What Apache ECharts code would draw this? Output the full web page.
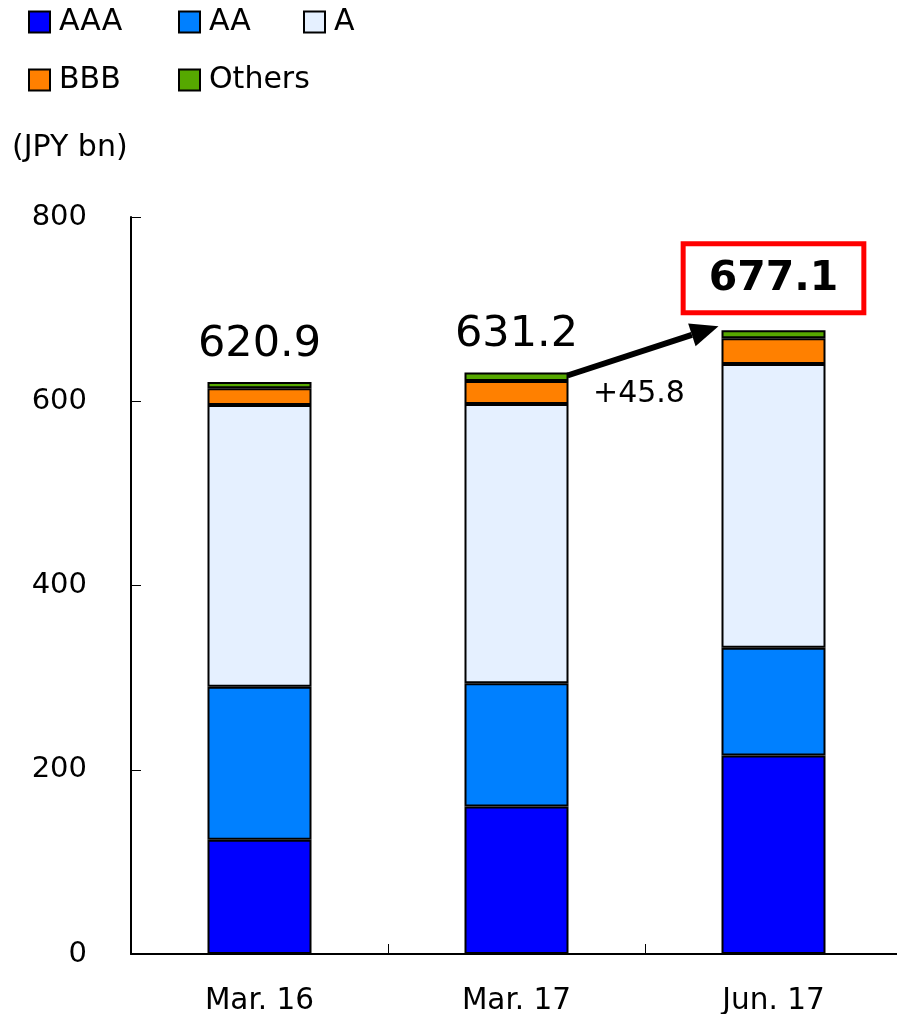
<!DOCTYPE html>
<html><head><meta charset="utf-8">
<script src="https://cdn.jsdelivr.net/npm/echarts@6/dist/echarts.min.js"></script>
<style>html,body{margin:0;padding:0;background:#fff}#c{width:897px;height:1014px}</style>
</head><body><div id="c"></div>
<script>
const categories = ['Mar. 16', 'Mar. 17', 'Jun. 17'];
const AAA = [124.0, 160.0, 215.5];
const AA = [166.0, 134.0, 117.0];
const A = [306.0, 303.0, 308.0];
const BBB = [18.0, 25.0, 28.0];
const Others = [6.9, 9.2, 8.6];
const totals = ['620.9', '631.2', '677.1'];
const changeLabel = '+45.8';
const yTicks = [0, 200, 400, 600, 800];

const FONT = 'DejaVu Sans';
const colors = {AAA:'#0000FF', AA:'#0080FF', A:'#E5F0FF', BBB:'#FF8000', Others:'#56A800'};
const names = ['AAA','AA','A','BBB','Others'];
const dataMap = {AAA, AA, A, BBB, Others};

const chart = echarts.init(document.getElementById('c'), null, {renderer:'canvas'});

const legendPos = {AAA:[28,7], AA:[178,7], A:[303,7], BBB:[28,65], Others:[178,65]};
const legends = names.map(n => ({
  data:[{name:n, icon:'rect'}], left:legendPos[n][0], top:legendPos[n][1], padding:0,
  itemWidth:21, itemHeight:21, itemGap:0,
  selectedMode:false,
  textStyle:{fontFamily:FONT, fontSize:30, color:'#000', padding:[0,0,0,4]},
  itemStyle:{borderColor:'#000', borderWidth:2}
}));

const series = names.map((n, si) => ({
  name:n, type:'bar', stack:'total', barWidth:104,
  data: dataMap[n].map((v, i) => {
    const d = {value:v};
    if (n === 'Others') {
      if (i === 2) {
        d.label = {show:true, position:'top', distance:20, formatter:totals[i],
          fontFamily:FONT, fontSize:41, fontWeight:'bold', color:'#000',
          borderColor:'#FF0000', borderWidth:5, padding:[13,23,10,23], backgroundColor:'#fff'};
      } else {
        d.label = {show:true, position:'top', distance:16, formatter:totals[i],
          fontFamily:FONT, fontSize:43, color:'#000'};
      }
    }
    return d;
  }),
  itemStyle:{color:colors[n], borderColor:'#000', borderWidth:2},
  emphasis:{disabled:true},
  z: 2
}));

const option = {
  animation:false,
  backgroundColor:'#fff',
  title:{text:'(JPY bn)', left:7, top:128, textStyle:{fontFamily:FONT, fontSize:30, fontWeight:'normal', color:'#000'}},
  legend: legends,
  grid:{left:131, top:217, right:-5, bottom:60, containLabel:false, outerBoundsMode:'none'},
  xAxis:{type:'category', data:categories,
    axisLine:{lineStyle:{color:'#000', width:2}},
    axisTick:{show:true, inside:true, length:10, lineStyle:{color:'#000', width:1}},
    axisLabel:{fontFamily:FONT, fontSize:29.5, color:'#000', margin:32}},
  yAxis:{type:'value', min:yTicks[0], max:yTicks[yTicks.length-1], interval:200,
    axisLine:{show:true, lineStyle:{color:'#000', width:2}},
    axisTick:{show:true, inside:true, length:10, lineStyle:{color:'#000', width:1}},
    splitLine:{show:false},
    axisLabel:{fontFamily:FONT, fontSize:29, color:'#000', margin:44}},
  series: series
};
chart.setOption(option);

// arrow annotation between Mar.17 and Jun.17 bar tops
const stackTop = i => AAA[i]+AA[i]+A[i]+BBB[i]+Others[i];
const p1 = chart.convertToPixel({seriesIndex:0}, [1, stackTop(1)]);
const p2 = chart.convertToPixel({seriesIndex:0}, [2, stackTop(2)]);
const sx = p1[0] + 51, sy = p1[1] + 3;
const ex = p2[0] - 55, ey = p2[1] - 4;
const ang = Math.atan2(ey - sy, ex - sx);
const headLen = 28, headW = 12;
const bx = ex - headLen*Math.cos(ang), by = ey - headLen*Math.sin(ang);
const nx = -Math.sin(ang), ny = Math.cos(ang);
chart.setOption({graphic:[
  {type:'line', shape:{x1:sx, y1:sy, x2:bx, y2:by}, style:{stroke:'#000', lineWidth:6}, z:10},
  {type:'polygon', shape:{points:[[ex,ey],[bx+nx*headW, by+ny*headW],[bx-nx*headW, by-ny*headW]]}, style:{fill:'#000'}, z:10},
  {type:'text', left:593, top:379, style:{text:changeLabel, fontFamily:FONT, fontSize:30, fill:'#000'}, z:10}
]});
</script></body></html>
